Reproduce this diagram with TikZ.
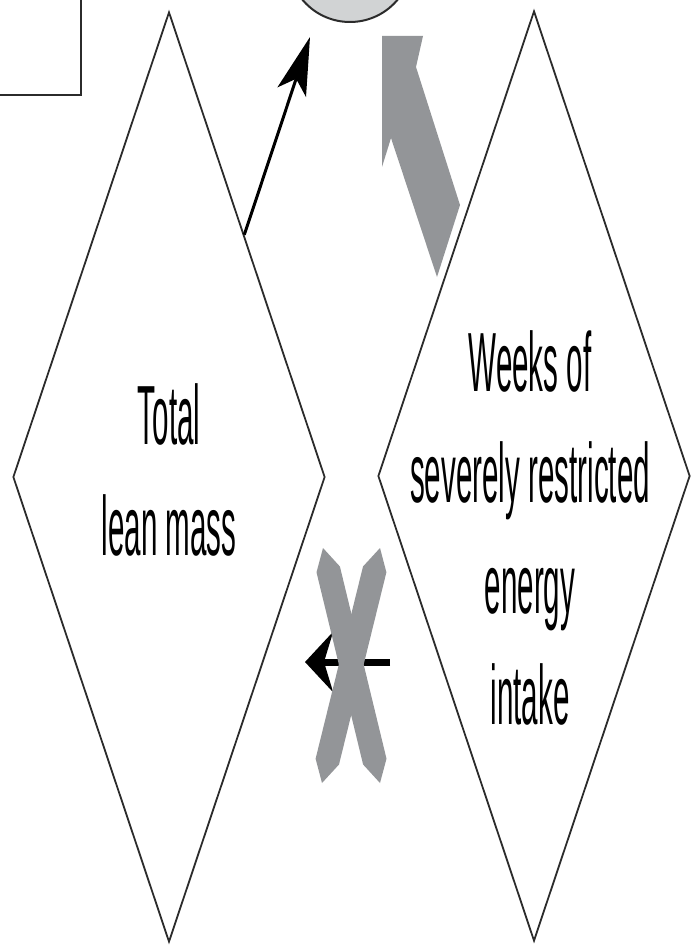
\documentclass[tikz,border=0pt]{standalone}
\usepackage{fontspec}
\usepackage{tikz}
\usetikzlibrary{shapes.geometric,arrows.meta,calc}
\newfontfamily\narrowsf[FakeStretch=0.352]{Liberation Sans}
\definecolor{xgray}{HTML}{939598}
\definecolor{ringgray}{HTML}{D1D3D4}
\definecolor{linegray}{HTML}{2B2B2B}

\begin{document}
\begin{tikzpicture}[x=1pt, y=-1pt,
    diam/.style={draw=linegray, line width=1.8pt, diamond, inner sep=0pt, minimum width=312pt, minimum height=930pt},
    txt/.style={font=\narrowsf\fontsize{84}{111}\selectfont, align=center, inner sep=0pt}]
    \useasboundingbox (0,0) rectangle (692,952);
    \clip (0,0) rectangle (692,952);

    % cut-off box and circle at the top
    \node[draw=linegray, line width=2pt, minimum width=200pt, minimum height=200pt, anchor=south east] (box) at (82,96) {};
    \node[circle, draw=linegray, line width=2pt, fill=ringgray, minimum size=124pt, inner sep=0pt] (ring) at (350,-40) {};

    % the two diamonds
    \node[diam] (lean) at (169,477) {};
    \node[diam] (weeks) at (534,476) {};
    \node[txt] (leantext) at (169,470) {Total\\lean mass};
    \node[txt] (weekstext) at (530,528) {Weeks of\\severely restricted\\energy\\intake};

    % arrows
    \coordinate (uptip) at (310,37);
    \draw[line width=3pt, -{Stealth[length=58pt,width=30pt,inset=14pt]}] ($(lean.north)!0.48!(lean.east)$) -- (uptip);
    \fill[xgray] (382,36) -- (382,167) -- (391,138) -- (437,277) -- (460,205) -- (416,67) -- (423,36) -- cycle;

    \coordinate (xfrom) at (390,662);
    \coordinate (xto) at (305,662);
    \draw[line width=7pt, -{Stealth[length=28pt,width=60pt,inset=9pt]}] (xfrom) -- (xto);

    % the cross over it
    \fill[xgray] (323,548) -- (339.9,566.5) -- (386.5,758.7) -- (380,783) -- (363.1,764.5) -- (316.5,572.3) -- cycle;
    \fill[xgray] (380,548) -- (386.4,572.3) -- (339.0,764.5) -- (322,783) -- (315.6,758.7) -- (363.0,566.5) -- cycle;
\end{tikzpicture}
\end{document}
